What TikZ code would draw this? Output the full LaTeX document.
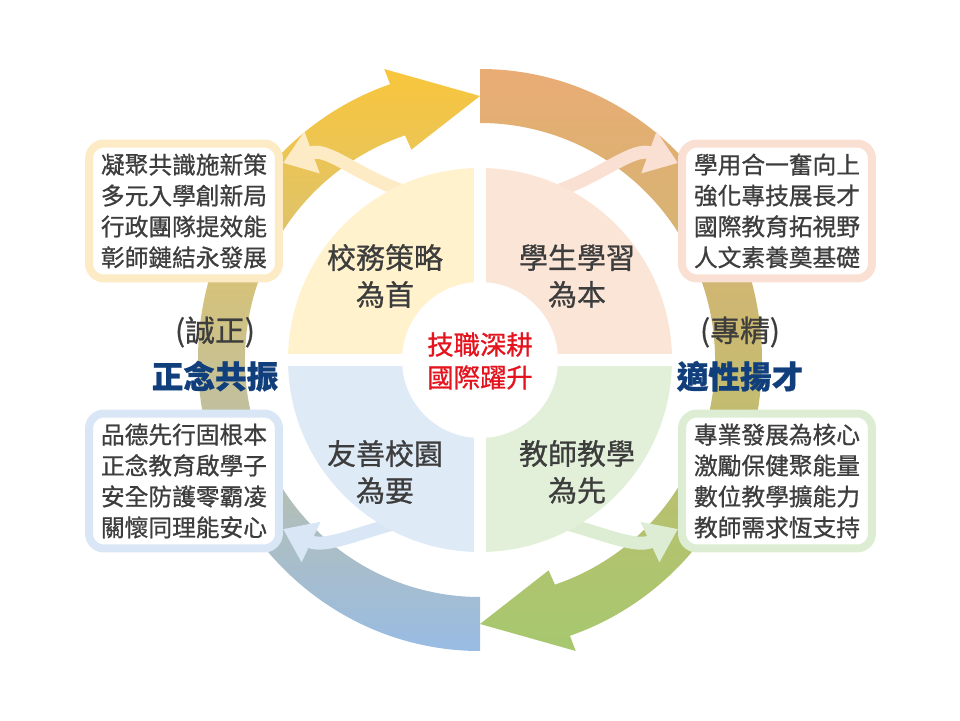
\documentclass[tikz,border=0pt]{standalone}
\usepackage{fontspec}
\setmainfont{Noto Sans CJK TC}[RawFeature={embolden=0.8}]
\usetikzlibrary{arrows.meta,positioning}

\definecolor{ringyellow}{HTML}{F9C63C}
\definecolor{ringgray}{HTML}{CBBA96}
\definecolor{ringblue}{HTML}{99BCE4}
\definecolor{ringorange}{HTML}{E9AC74}
\definecolor{ringtan}{HTML}{D4A862}
\definecolor{ringgreen}{HTML}{A6C86E}
\definecolor{qyellow}{HTML}{FFF2CC}
\definecolor{qpeach}{HTML}{FBE5D6}
\definecolor{qblue}{HTML}{DEEAF6}
\definecolor{qgreen}{HTML}{E2F0D9}
\definecolor{byellow}{HTML}{FDEBC6}
\definecolor{bpeach}{HTML}{FAE0D2}
\definecolor{bblue}{HTML}{D9E6F5}
\definecolor{bgreen}{HTML}{DDEDD3}
\definecolor{boxtext}{HTML}{3D3D3D}
\definecolor{darkblue}{HTML}{113F7C}
\definecolor{corered}{HTML}{E3141E}

\def\routx{282}
\def\routy{291}
\def\rinx{235}
\def\riny{237}
\def\rmidx{258}
\def\rmidy{264}
\def\hang{18.6}

\begin{document}
\begin{tikzpicture}[x=0.02cm,y=0.02cm]
    \tikzstyle{box}=[draw,fill=white,line width=0.16cm,rounded corners=0.3cm,minimum width=3.8cm,minimum height=2.7cm,align=left,text=boxtext,font=\fontsize{13.5}{17.6}\selectfont]
    \tikzstyle{quad label}=[align=center,text=boxtext,font=\fontsize{16.5}{21}\selectfont]
    \tikzstyle{side note}=[text=boxtext,font=\fontsize{17}{20}\selectfont]
    \tikzstyle{side title}=[text=darkblue,font=\fontsize{18}{21}\selectfont\bfseries]
    \tikzstyle{small arrow}=[line width=0.26cm,-{Triangle[length=0.62cm,width=0.85cm]}]

    \useasboundingbox (-480,-360) rectangle (480,360);

    % Draw the outer ring as two arrows
    \shade[top color=ringyellow, middle color=ringgray, bottom color=ringblue]
        (270:{\routx} and {\routy}) arc[start angle=270, end angle={90+\hang}, x radius=\routx, y radius=\routy]
        -- ({90+\hang}:300 and 307) -- (90:{\rmidx} and {\rmidy}) -- ({90+\hang}:215 and 222)
        -- ({90+\hang}:{\rinx} and {\riny}) arc[start angle={90+\hang}, end angle=270, x radius=\rinx, y radius=\riny]
        -- cycle;
    \shade[top color=ringorange, middle color=ringtan, bottom color=ringgreen]
        (90:{\routx} and {\routy}) arc[start angle=90, end angle={-90+\hang}, x radius=\routx, y radius=\routy]
        -- ({-90+\hang}:300 and 307) -- (-90:{\rmidx} and {\rmidy}) -- ({-90+\hang}:215 and 222)
        -- ({-90+\hang}:{\rinx} and {\riny}) arc[start angle={-90+\hang}, end angle=90, x radius=\rinx, y radius=\riny]
        -- cycle;

    % Draw the four text boxes
    \node[box, draw=byellow] (tl-box) at (-296,149) {凝聚共識施新策\\多元入學創新局\\行政團隊提效能\\彰師鏈結永發展};
    \node[box, draw=bpeach] (tr-box) at (297,149) {學用合一奮向上\\強化專技展長才\\國際教育拓視野\\人文素養奠基礎};
    \node[box, draw=bblue] (bl-box) at (-296,-121) {品德先行固根本\\正念教育啟學子\\安全防護零霸凌\\關懷同理能安心};
    \node[box, draw=bgreen] (br-box) at (297,-121) {專業發展為核心\\激勵保健聚能量\\數位教學擴能力\\教師需求恆支持};

    % Small arrows from the quadrants out to the boxes
    \coordinate (tl-out) at (-80,170);
    \coordinate (tr-out) at (80,170);
    \coordinate (bl-out) at (-80,-162);
    \coordinate (br-out) at (80,-162);
    \draw[small arrow, byellow] (tl-out) to[out=160,in=20] ([yshift=0.96cm]tl-box.east);
    \draw[small arrow, bpeach] (tr-out) to[out=20,in=160] ([yshift=0.96cm]tr-box.west);
    \draw[small arrow, bblue] (bl-out) to[out=195,in=-25] ([yshift=-0.96cm]bl-box.east);
    \draw[small arrow, bgreen] (br-out) to[out=-15,in=205] ([yshift=-0.96cm]br-box.west);

    % Draw the quadrants and the core circle
    \foreach \a/\col in {90/qyellow, 0/qpeach, 180/qblue, 270/qgreen}
        \fill[\col] (0,0) -- (\a:192) arc[start angle=\a, delta angle=90, radius=192] -- cycle;
    \draw[white, line width=0.24cm] (0,-200) -- (0,200) (-200,0) -- (200,0);
    \fill[white] (0,0) circle[radius=78];

    % Annotate the quadrants
    \node[quad label] (tl-label) at (-95,84) {校務策略\\為首};
    \node[quad label] (tr-label) at (97,84) {學生學習\\為本};
    \node[quad label] (bl-label) at (-95,-112) {友善校園\\為要};
    \node[quad label] (br-label) at (97,-112) {教師教學\\為先};
    \node[align=center, text=corered, font=\fontsize{15}{18.7}\selectfont] (core) at (0,-1) {技職深耕\\國際躍升};

    % Side titles
    \node[side note] (left-note) at (-265,28) {(誠正)};
    \node[side title, below=0.02cm of left-note] (left-title) {正念共振};
    \node[side note] (right-note) at (260,28) {(專精)};
    \node[side title, below=0.02cm of right-note] (right-title) {適性揚才};
\end{tikzpicture}
\end{document}
